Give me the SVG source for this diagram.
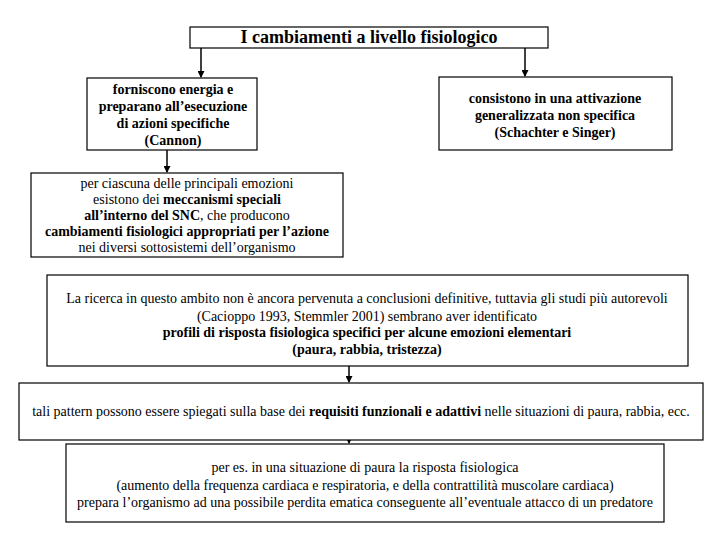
<svg xmlns="http://www.w3.org/2000/svg" width="720" height="540" viewBox="0 0 720 540">
<style>
.box{fill:#fff;stroke:#000;stroke-width:1.2}
text{font-family:'Liberation Serif','DejaVu Serif',serif;fill:#000;text-anchor:middle}
.t{font-size:18px;font-weight:bold}
.b{font-size:14px;font-weight:bold}
.r{font-size:14px}
.bb{font-weight:bold}
.c{stroke:#000;stroke-width:1.5;fill:none}
</style>
<defs>
<marker id="ah" markerWidth="7" markerHeight="7" refX="6" refY="3.5" orient="auto" markerUnits="userSpaceOnUse">
<path d="M0,0 L7,3.5 L0,7 Z" fill="#000"/>
</marker>
</defs>
<rect width="720" height="540" fill="#fff"/>
<g id="connectors">
<line class="c" x1="201" y1="48" x2="201" y2="77" marker-end="url(#ah)"/>
<line class="c" x1="525" y1="48" x2="525" y2="76" marker-end="url(#ah)"/>
<line class="c" x1="167" y1="150" x2="167" y2="172" marker-end="url(#ah)"/>
<line class="c" x1="349" y1="366" x2="349" y2="382" marker-end="url(#ah)"/>
<line class="c" x1="349" y1="440" x2="349" y2="443" marker-end="url(#ah)"/>
</g>
<g id="title">
<rect class="box" x="190" y="27" width="358" height="21"/>
<text class="t" x="369" y="43">I cambiamenti a livello fisiologico</text>
</g>
<g id="cannon">
<rect class="box" x="87" y="78" width="170" height="72"/>
<text class="b" x="173" y="94">forniscono energia e</text>
<text class="b" x="173" y="111">preparano all’esecuzione</text>
<text class="b" x="173" y="128">di azioni specifiche</text>
<text class="b" x="173" y="145">(Cannon)</text>
</g>
<g id="schachter">
<rect class="box" x="439" y="77" width="233" height="73"/>
<text class="b" x="555" y="103">consistono in una attivazione</text>
<text class="b" x="555" y="120">generalizzata non specifica</text>
<text class="b" x="555" y="137">(Schachter e Singer)</text>
</g>
<g id="snc">
<rect class="box" x="31" y="173" width="312" height="84"/>
<text class="r" x="187" y="188">per ciascuna delle principali emozioni</text>
<text class="r" x="187" y="204">esistono dei <tspan class="bb">meccanismi speciali</tspan></text>
<text class="r" x="187" y="220"><tspan class="bb">all’interno del SNC</tspan>, che producono</text>
<text class="r" x="187" y="236"><tspan class="bb">cambiamenti fisiologici appropriati per l’azione</tspan></text>
<text class="r" x="187" y="252">nei diversi sottosistemi dell’organismo</text>
</g>
<g id="ricerca">
<rect class="box" x="47" y="275" width="641" height="91"/>
<text class="r" x="367" y="303">La ricerca in questo ambito non è ancora pervenuta a conclusioni definitive, tuttavia gli studi più autorevoli</text>
<text class="r" x="367" y="321">(Cacioppo 1993, Stemmler 2001) sembrano aver identificato</text>
<text class="r bb" x="367" y="337">profili di risposta fisiologica specifici per alcune emozioni elementari</text>
<text class="r bb" x="367" y="354">(paura, rabbia, tristezza)</text>
</g>
<g id="pattern">
<rect class="box" x="19" y="383" width="684" height="57"/>
<text class="r" x="361" y="416">tali pattern possono essere spiegati sulla base dei <tspan class="bb">requisiti funzionali e adattivi</tspan> nelle situazioni di paura, rabbia, ecc.</text>
</g>
<g id="esempio">
<rect class="box" x="66" y="444" width="598" height="78"/>
<text class="r" x="365" y="472">per es. in una situazione di paura la risposta fisiologica</text>
<text class="r" x="365" y="490">(aumento della frequenza cardiaca e respiratoria, e della contrattilità muscolare cardiaca)</text>
<text class="r" x="365" y="507">prepara l’organismo ad una possibile perdita ematica conseguente all’eventuale attacco di un predatore</text>
</g>
</svg>
